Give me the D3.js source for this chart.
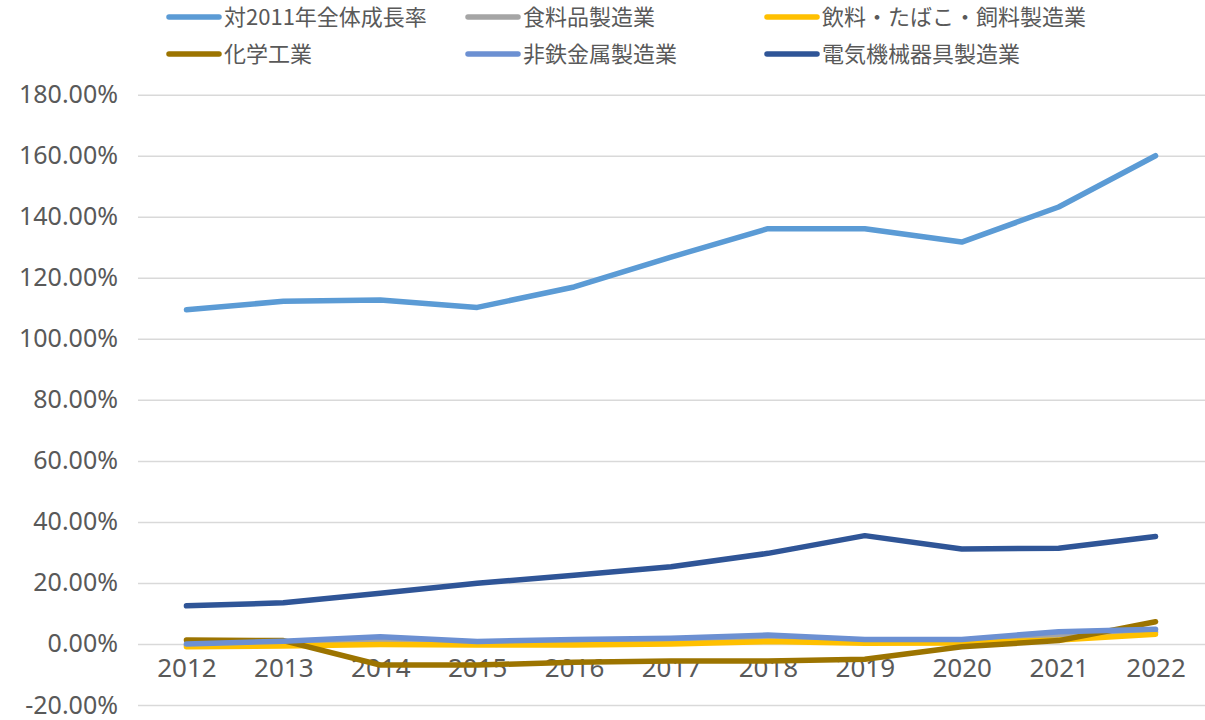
<!DOCTYPE html>
<html>
<head>
<meta charset="utf-8">
<script src="https://cdn.jsdelivr.net/npm/d3@7"></script>
<style>
  html, body { margin: 0; padding: 0; background: #fff; }
  svg { display: block; }
</style>
</head>
<body>
<svg id="chart" width="1205" height="720"></svg>
<script>
const years = ["2012","2013","2014","2015","2016","2017","2018","2019","2020","2021","2022"];
const seriesNames = ["対2011年全体成長率","食料品製造業","飲料・たばこ・飼料製造業","化学工業","非鉄金属製造業","電気機械器具製造業"];
const seriesColors = ["#5B9BD5","#A5A5A5","#FFC000","#9C7400","#6C90D2","#2F5597"];
const totalGrowth   = [109.5,112.3,112.7,110.3,117.0,126.8,136.1,136.1,131.7,143.2,160.0];
const food          = [-0.4,0.2,1.0,0.2,0.6,0.9,1.8,0.8,0.9,2.6,3.9];
const beverage      = [-0.9,-0.7,-0.2,-0.3,-0.3,0.0,0.8,0.2,0.3,1.3,3.2];
const chemical      = [1.3,1.1,-6.9,-6.9,-6.0,-5.6,-5.6,-5.0,-0.9,1.1,7.3];
const nonferrous    = [0.0,0.9,2.4,0.8,1.5,1.9,2.9,1.5,1.5,4.0,4.8];
const electrical    = [12.5,13.5,16.6,19.9,22.5,25.3,29.7,35.5,31.1,31.4,35.2];
const yTicks = [-20,0,20,40,60,80,100,120,140,160,180];

const seriesValues = [totalGrowth, food, beverage, chemical, nonferrous, electrical];

const svg = d3.select("#chart");
const font = "'Noto Sans', 'Noto Sans CJK JP', sans-serif";
const textColor = "#595959";

const x = d3.scalePoint().domain(years).range([138, 1204]).padding(0.5);
const y = d3.scaleLinear().domain([-20, 180]).range([705, 94.7]);

// gridlines
const yAxis = d3.axisLeft(y).tickValues(yTicks).tickSize(-(1205 - 138))
  .tickFormat(d => d.toFixed(2) + "%").tickPadding(20);
const gy = svg.append("g").attr("transform", "translate(138,0)").call(yAxis);
gy.select(".domain").remove();
gy.selectAll(".tick line").attr("stroke", "#D9D9D9").attr("stroke-width", 1.5);
gy.selectAll(".tick text").attr("x", -20).attr("fill", textColor)
  .style("font-family", font).style("font-size", "25px").attr("dy", "0.32em");

// x axis labels
const xAxis = d3.axisBottom(x).tickSize(0).tickPadding(0);
const gx = svg.append("g").attr("transform", `translate(0,${y(0)})`).call(xAxis);
gx.select(".domain").remove();
gx.selectAll(".tick text").attr("y", 33).attr("dy", 0).attr("fill", textColor)
  .style("font-family", font).style("font-size", "26px");

// lines
const line = d3.line().x((d, i) => x(years[i])).y(d => y(d));
seriesValues.forEach((vals, k) => {
  svg.append("path").datum(vals)
    .attr("d", line)
    .attr("fill", "none")
    .attr("stroke", seriesColors[k])
    .attr("stroke-width", 5.5)
    .attr("stroke-linejoin", "round")
    .attr("stroke-linecap", "round");
});

// legend
const legendCols = [169, 468, 767];
const legendRows = [17, 54];
const lg = svg.append("g");
seriesNames.forEach((name, k) => {
  const col = k % 3, row = Math.floor(k / 3);
  const lx = legendCols[col], ly = legendRows[row];
  lg.append("line").attr("x1", lx).attr("x2", lx + 50).attr("y1", ly).attr("y2", ly)
    .attr("stroke", seriesColors[k]).attr("stroke-width", 5.5).attr("stroke-linecap", "round");
  lg.append("text").attr("x", lx + 55).attr("y", ly).attr("dy", "0.35em")
    .attr("fill", textColor).style("font-family", "'Noto Sans CJK JP', 'Noto Sans', sans-serif")
    .style("font-size", "22px").text(name);
});
</script>
</body>
</html>
